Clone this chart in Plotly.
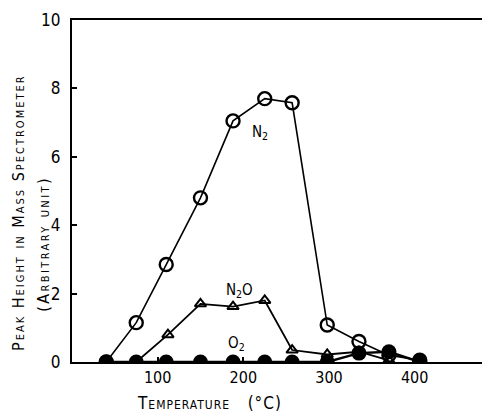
import plotly.graph_objects as go

temp = [40, 75, 110, 150, 188, 225, 257, 298, 335, 370, 406]
n2 = [0.0, 1.15, 2.85, 4.8, 7.05, 7.7, 7.58, 1.08, 0.6, 0.2, 0.05]
temp_n2o = [75, 112, 150, 188, 225, 257, 298, 335, 370]
n2o = [0.0, 0.8, 1.7, 1.62, 1.8, 0.35, 0.22, 0.3, 0.05]
o2 = [0.0, 0.0, 0.0, 0.0, 0.0, 0.0, 0.0, 0.0, 0.26, 0.3, 0.0]

FONT = "DejaVu Sans Condensed, DejaVu Sans, sans-serif"
fig = go.Figure()
fig.add_trace(go.Scatter(x=temp, y=n2, mode="lines+markers",
                         line=dict(color="black", width=1.6),
                         marker=dict(symbol="circle-open", size=13, color="black", line=dict(width=2.4))))
fig.add_trace(go.Scatter(x=temp_n2o, y=n2o, mode="lines+markers",
                         line=dict(color="black", width=1.8),
                         marker=dict(symbol="triangle-up-open", size=10, color="black", line=dict(width=2))))
fig.add_trace(go.Scatter(x=temp, y=o2, mode="lines+markers",
                         line=dict(color="black", width=2.4),
                         marker=dict(symbol="circle", size=15, color="black")))

for x, y, t in [(219, 6.7, "N<sub>2</sub>"), (196, 2.1, "N<sub>2</sub>O"), (192, 0.55, "O<sub>2</sub>")]:
    fig.add_annotation(x=x, y=y, text=t, showarrow=False,
                       font=dict(family=FONT, size=15, color="black"))

ytitle1 = "Peak Height in Mass Spectrometer"
ytitle2 = "(Arbitrary unit)"
xtitle = "Temperature   (°C)"

def spaced(t, px):
    return f"<span style='letter-spacing:{px}px'>{t}</span>"

fig.add_annotation(xref="paper", yref="paper", x=-0.128, y=0.437, text=spaced(ytitle1, 2),
                   textangle=-90, showarrow=False, xanchor="center", yanchor="middle",
                   font=dict(family=FONT, size=16, color="black", variant="small-caps"))
fig.add_annotation(xref="paper", yref="paper", x=-0.07, y=0.345, text=spaced(ytitle2, 2.4),
                   textangle=-90, showarrow=False, xanchor="center", yanchor="middle",
                   font=dict(family=FONT, size=16, color="black", variant="small-caps"))
fig.add_annotation(xref="paper", yref="paper", x=0.33, y=-0.12, text=spaced(xtitle, 1),
                   showarrow=False, xanchor="center", yanchor="middle",
                   font=dict(family=FONT, size=17, color="black", variant="small-caps"))

fig.update_xaxes(range=[0, 488], tickvals=[100, 200, 300, 400], ticks="inside", ticklen=5,
                 tickwidth=1.5, tickcolor="black", showline=True, linewidth=2.2, linecolor="black",
                 mirror=True, showgrid=False, zeroline=False,
                 tickfont=dict(family=FONT, size=16, color="black"))
fig.update_yaxes(range=[0, 10], tickvals=[0, 2, 4, 6, 8, 10], ticks="inside", ticklen=5,
                 tickwidth=1.5, tickcolor="black", showline=True, linewidth=2.2, linecolor="black",
                 showgrid=False, zeroline=False, ticklabelstandoff=6,
                 tickfont=dict(family=FONT, size=17, color="black"))
fig.update_layout(width=482, height=408, margin=dict(l=64, r=0, t=12, b=54),
                  plot_bgcolor="white", paper_bgcolor="white", showlegend=False)
fig.write_html("out.html")
